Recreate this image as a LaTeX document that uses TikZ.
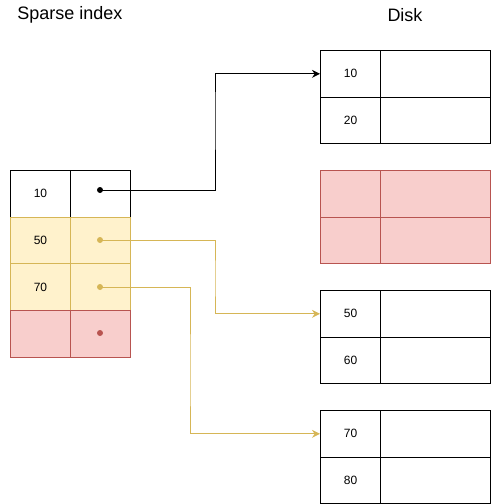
\documentclass[tikz,border=0pt]{standalone}
\usepackage{fontspec}
\setmainfont{Liberation Sans}
\usetikzlibrary{arrows.meta}
\definecolor{yfill}{HTML}{FFF2CC}
\definecolor{ydraw}{HTML}{D6B656}
\definecolor{rfill}{HTML}{F8CECC}
\definecolor{rdraw}{HTML}{B85450}
\tikzset{
  cell/.style={draw, line width=1pt, minimum height=46.67pt, inner sep=0pt, anchor=north west, font=\fontsize{12}{14}\selectfont},
  narrow/.style={cell, minimum width=60pt},
  wide/.style={cell, minimum width=110pt},
  ycell/.style={fill=yfill, draw=ydraw},
  rcell/.style={fill=rfill, draw=rdraw},
  title/.style={font=\fontsize{18}{21}\selectfont, inner sep=0pt},
  dot/.style={circle, inner sep=0pt, minimum size=6pt, fill=#1},
  link/.style={line width=1pt, draw=#1, -{Stealth[length=8pt,width=8pt]}},
}
\begin{document}
\begin{tikzpicture}[x=1pt,y=-1pt]
\useasboundingbox (0,0) rectangle (491,504);
\node[title] (t1) at (70,15) {Sparse index};
\node[title] (t2) at (405,15) {Disk};
% sparse index
\node[narrow] (i1a) at (10,170) {10};
\node[narrow] (i1b) at (70,170) {};
\node[narrow,ycell] (i2a) at (10,216.67) {50};
\node[narrow,ycell] (i2b) at (70,216.67) {};
\node[narrow,ycell] (i3a) at (10,263.33) {70};
\node[narrow,ycell] (i3b) at (70,263.33) {};
\node[narrow,rcell] (i4a) at (10,310) {};
\node[narrow,rcell] (i4b) at (70,310) {};
\node[dot=black] (d1) at (100,190) {};
\node[dot=ydraw] (d2) at (100,240) {};
\node[dot=ydraw] (d3) at (100,287) {};
\node[dot=rdraw] (d4) at (100,333) {};
% disk blocks
\node[narrow] (a1) at (320,50) {10};
\node[wide] (a1b) at (380,50) {};
\node[narrow] (a2) at (320,96.67) {20};
\node[wide] (a2b) at (380,96.67) {};
\node[narrow,rcell] (b1) at (320,170) {};
\node[wide,rcell] (b1b) at (380,170) {};
\node[narrow,rcell] (b2) at (320,216.67) {};
\node[wide,rcell] (b2b) at (380,216.67) {};
\node[narrow] (c1) at (320,290) {50};
\node[wide] (c1b) at (380,290) {};
\node[narrow] (c2) at (320,336.67) {60};
\node[wide] (c2b) at (380,336.67) {};
\node[narrow] (e1) at (320,410) {70};
\node[wide] (e1b) at (380,410) {};
\node[narrow] (e2) at (320,456.67) {80};
\node[wide] (e2b) at (380,456.67) {};
% links
\draw[link=black] (d1.center) -| (215,110) |- (a1.west);
\draw[link=ydraw] (d2.center) -| (215,280) |- (c1.west);
\draw[link=ydraw] (d3.center) -| (190,380) |- (e1.west);
\end{tikzpicture}
\end{document}
